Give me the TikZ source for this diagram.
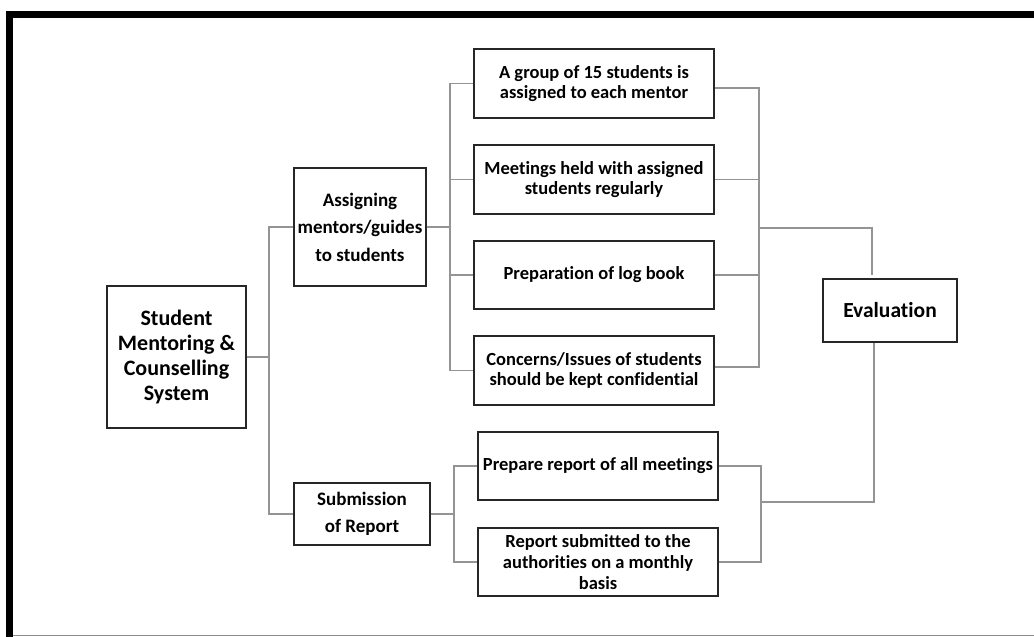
\documentclass[tikz,border=0pt]{standalone}
\usepackage{fontspec}
\setmainfont{Carlito}[Ligatures=NoCommon]
\begin{document}
\begin{tikzpicture}[x=1pt,y=-1pt,
  box/.style={draw=black!85,line width=1.4pt,inner sep=0pt,align=center,
    font=\fontsize{18.5}{20.7}\selectfont\bfseries},
  conn/.style={draw=black!42,line width=1.3pt}]
\useasboundingbox (0,0) rectangle (1034,637);
% frame
\draw[line width=7pt,black] (9.5,637) -- (9.5,14.5) -- (1034,14.5);
\draw[line width=1.2pt,black!45] (13,635.5) -- (1034,635.5);
% nodes
\node[box,minimum width=139pt,minimum height=142pt,font=\fontsize{22}{24.7}\selectfont\bfseries] (main) at (176.5,357) {Student\\Mentoring \&\\Counselling\\System};
\node[box,minimum width=132pt,minimum height=118pt,font=\fontsize{19}{27.5}\selectfont\bfseries] (assign) at (360,227) {Assigning\\mentors/guides\\to students};
\node[box,minimum width=136pt,minimum height=62pt,font=\fontsize{19}{27}\selectfont\bfseries] (submit) at (362,514) {Submission\\of Report};
\node[box,minimum width=240pt,minimum height=69pt] (grp) at (594,83.5) {A group of 15 students is\\assigned to each mentor};
\node[box,minimum width=240pt,minimum height=69pt] (meet) at (594,179.5) {Meetings held with assigned\\students regularly};
\node[box,minimum width=240pt,minimum height=68pt] (prep) at (594,275) {Preparation of log book};
\node[box,minimum width=240pt,minimum height=69pt] (conc) at (594,370.5) {Concerns/Issues of students\\should be kept confidential};
\node[box,minimum width=240pt,minimum height=68pt] (rep) at (598,466) {Prepare report of all meetings};
\node[box,minimum width=240pt,minimum height=68pt] (sub) at (598,562) {Report submitted to the\\authorities on a monthly\\basis};
\node[box,minimum width=134pt,minimum height=63pt,font=\fontsize{21.5}{24}\selectfont\bfseries] (eval) at (890,310.5) {Evaluation};
% bus coordinates
\coordinate (b1) at (269,357);
\coordinate (b2) at (450,227);
\coordinate (b3) at (454,514);
\coordinate (b4) at (759,228);
\coordinate (b5) at (761,502);
\coordinate (e1) at (872,275);
% connectors
\draw[conn] (main.east) -- (b1);
\draw[conn] (assign.west) -| (b1) |- (submit.west);
\draw[conn] (assign.east) -- (b2);
\draw[conn] (grp.west) -| (b2) |- (conc.west);
\draw[conn] (meet.west) -| (b2);
\draw[conn] (prep.west) -| (b2);
\draw[conn] (submit.east) -- (b3);
\draw[conn] (rep.west) -| (b3) |- (sub.west);
\draw[conn] ([yshift=-4.5pt]grp.east) -| (b4) |- ([yshift=3.5pt]conc.east);
\draw[conn] (meet.east) -| (b4);
\draw[conn] (prep.east) -| (b4);
\draw[conn] (b4) -| (e1);
\draw[conn] (rep.east) -| (b5) |- (sub.east);
\draw[conn] (b5) -| (eval.south -| 874,0);
\end{tikzpicture}
\end{document}
